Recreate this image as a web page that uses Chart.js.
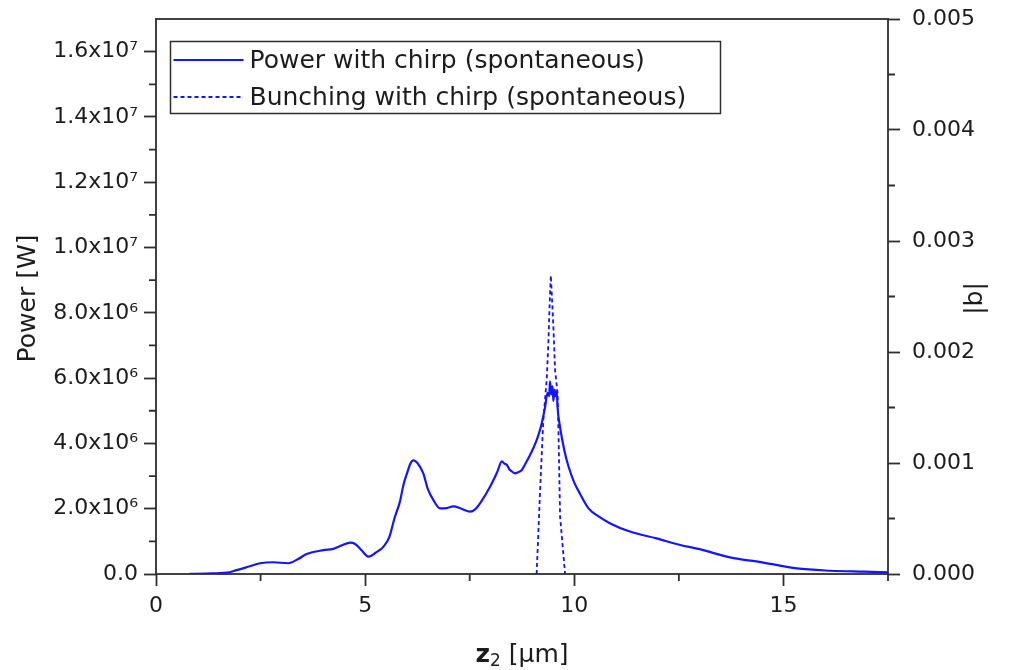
<!DOCTYPE html>
<html>
<head>
<meta charset="utf-8">
<title>Power and bunching with chirp</title>
<script src="https://cdn.jsdelivr.net/npm/chart.js@4.4.1/dist/chart.umd.min.js"></script>
<style>
  html, body { margin: 0; padding: 0; background: #fff; }
  #wrap { width: 1016px; height: 670px; }
</style>
</head>
<body>
<div id="wrap"><canvas id="powerChart" width="1016" height="670"></canvas></div>
<script>
// data
const zPower = [0.8, 1.2, 1.69, 1.93, 2.2, 2.49, 2.8, 3.16, 3.4, 3.6, 4.0, 4.24, 4.45, 4.64,
  4.76, 4.92, 5.08, 5.25, 5.44, 5.58, 5.7, 5.83, 5.92, 6.0, 6.08, 6.15, 6.25, 6.39, 6.5,
  6.63, 6.79, 6.95, 7.11, 7.3, 7.51, 7.63, 7.75, 7.99, 8.15, 8.27, 8.33, 8.39, 8.45, 8.5,
  8.58, 8.66, 8.74, 8.84, 8.94, 9.02, 9.1, 9.2, 9.3, 9.36, 9.4, 9.42, 9.45, 9.48, 9.5,
  9.53, 9.55, 9.58, 9.6, 9.66, 9.76, 9.86, 10.0, 10.14, 10.34, 10.6, 10.86, 11.33, 11.97, 12.53, 13.0,
  13.72, 14.52, 15.32, 16.12, 16.92, 17.5];
// power in units of 1e6 W
const powerMW = [0.005, 0.015, 0.04, 0.12, 0.22, 0.33, 0.36, 0.33, 0.46, 0.61, 0.73, 0.77, 0.88, 0.96,
  0.92, 0.72, 0.53, 0.65, 0.84, 1.14, 1.7, 2.21, 2.75, 3.08, 3.38, 3.48, 3.4, 3.08, 2.6,
  2.27, 2.01, 2.02, 2.07, 2.0, 1.91, 1.98, 2.17, 2.68, 3.1, 3.45, 3.38, 3.34, 3.2, 3.15,
  3.08, 3.12, 3.18, 3.4, 3.64, 3.85, 4.1, 4.5, 5.1, 5.55, 5.45, 5.9, 5.5, 5.75, 5.3,
  5.65, 5.45, 5.6, 5.1, 4.5, 3.8, 3.3, 2.8, 2.45, 2.01, 1.75, 1.55, 1.3, 1.09, 0.89, 0.76,
  0.51, 0.35, 0.17, 0.1, 0.07, 0.05];

const zBunch = [9.10, 9.18, 9.26, 9.34, 9.38, 9.42, 9.44, 9.50, 9.54, 9.60, 9.62, 9.66, 9.78];
const bunching = [0, 0.00073, 0.00139, 0.00175, 0.00208, 0.00253, 0.00269, 0.00223, 0.00184, 0.00163, 0.00132, 0.00052, 0];

const seriesLabels = ["Power with chirp (spontaneous)", "Bunching with chirp (spontaneous)"];

const zTicks = [0, 5, 10, 15];
const zTickLabels = ["0", "5", "10", "15"];
const zMinor = [2.5, 7.5, 12.5, 17.5];

const powerTicks = [0, 2e6, 4e6, 6e6, 8e6, 1e7, 1.2e7, 1.4e7, 1.6e7];
const powerTickLabels = ["0.0", "2.0x10\u2076", "4.0x10\u2076", "6.0x10\u2076", "8.0x10\u2076",
  "1.0x10\u2077", "1.2x10\u2077", "1.4x10\u2077", "1.6x10\u2077"];
const powerMinor = [1e6, 3e6, 5e6, 7e6, 9e6, 1.1e7, 1.3e7, 1.5e7];

const bTicks = [0, 0.001, 0.002, 0.003, 0.004, 0.005];
const bTickLabels = ["0.000", "0.001", "0.002", "0.003", "0.004", "0.005"];
const bMinor = [0.0005, 0.0015, 0.0025, 0.0035, 0.0045];

(() => {
  "use strict";

  const FONT = "'DejaVu Sans', 'Liberation Sans', Arial, sans-serif";
  const INK = "#1c1c1c";
  const AXIS = "#2e2e2e";
  const BLUE = "#1414ff";

  // chart area edges in the reference: left 156, right 888, top 19, bottom 574
  const W = 1016, H = 670;
  const AREA = { left: 156, right: 888, top: 19, bottom: 574 };

  const setTicks = (values) => (scale) => {
    scale.ticks = values.map((v) => ({ value: v }));
  };

  // pin the box sizes so the plot area lands where the reference has it
  const fitV = (width) => (s) => {
    s.width = width;
    s.paddingTop = 0;
    s.paddingBottom = 0;
  };
  const fitH = (height) => (s) => {
    s.height = height;
    s.paddingLeft = 0;
    s.paddingRight = 0;
  };

  const tickGrid = {
    display: true,
    drawOnChartArea: false,
    drawTicks: true,
    tickLength: 12,
    tickWidth: 1.8,
    tickColor: AXIS
  };

  const frame = {
    id: "frame",
    afterDraw(chart) {
      const { ctx, chartArea: a, scales } = chart;
      ctx.save();

      // box
      ctx.strokeStyle = AXIS;
      ctx.lineWidth = 1.8;
      ctx.strokeRect(a.left, a.top, a.right - a.left, a.bottom - a.top);

      // minor ticks
      ctx.beginPath();
      zMinor.forEach((v) => {
        const x = scales.x.getPixelForValue(v);
        ctx.moveTo(x, a.bottom); ctx.lineTo(x, a.bottom + 7);
      });
      powerMinor.forEach((v) => {
        const y = scales.y.getPixelForValue(v);
        ctx.moveTo(a.left, y); ctx.lineTo(a.left - 7, y);
      });
      bMinor.forEach((v) => {
        const y = scales.y1.getPixelForValue(v);
        ctx.moveTo(a.right, y); ctx.lineTo(a.right + 7, y);
      });
      ctx.stroke();

      // axis titles
      ctx.fillStyle = INK;
      ctx.textBaseline = "middle";
      ctx.textAlign = "center";
      ctx.font = `25px ${FONT}`;

      ctx.save();
      ctx.translate(28, (a.top + a.bottom) / 2 + 2);
      ctx.rotate(-Math.PI / 2);
      ctx.fillText("Power [W]", 0, 0);
      ctx.restore();

      ctx.save();
      ctx.translate(975, (a.top + a.bottom) / 2 + 2);
      ctx.rotate(-Math.PI / 2);
      ctx.fillText("|b|", 0, 0);
      ctx.restore();

      // x title: bold z, subscript 2, then unit
      const zFont = `bold 25px ${FONT}`;
      const subFont = `17px ${FONT}`;
      const unitFont = `25px ${FONT}`;
      ctx.textAlign = "left";
      ctx.font = zFont; const wz = ctx.measureText("z").width;
      ctx.font = subFont; const ws = ctx.measureText("2").width;
      ctx.font = unitFont; const wu = ctx.measureText(" [\u00b5m]").width;
      let x = (a.left + a.right) / 2 - (wz + ws + wu) / 2;
      const yT = 655;
      ctx.font = zFont; ctx.fillText("z", x, yT); x += wz;
      ctx.font = subFont; ctx.fillText("2", x, yT + 7); x += ws;
      ctx.font = unitFont; ctx.fillText(" [\u00b5m]", x, yT);

      // legend
      const lg = { x: 170.5, y: 41.5, w: 550, h: 72 };
      ctx.strokeStyle = AXIS;
      ctx.lineWidth = 1.5;
      ctx.strokeRect(lg.x, lg.y, lg.w, lg.h);
      const rows = [60, 97];
      chart.data.datasets.forEach((ds, i) => {
        ctx.beginPath();
        ctx.strokeStyle = ds.borderColor;
        ctx.lineWidth = ds.borderWidth;
        ctx.setLineDash(ds.borderDash || []);
        ctx.moveTo(lg.x + 3, rows[i]);
        ctx.lineTo(lg.x + 73, rows[i]);
        ctx.stroke();
        ctx.setLineDash([]);
        ctx.fillStyle = INK;
        ctx.font = `25px ${FONT}`;
        ctx.fillText(ds.label, lg.x + 79, rows[i] + 1);
      });

      ctx.restore();
    }
  };

  const ctx = document.getElementById("powerChart").getContext("2d");

  new Chart(ctx, {
    type: "line",
    data: {
      datasets: [
        {
          label: seriesLabels[0],
          data: zPower.map((z, i) => ({ x: z, y: powerMW[i] * 1e6 })),
          yAxisID: "y",
          borderColor: BLUE,
          borderWidth: 2.2,
          pointRadius: 0,
          cubicInterpolationMode: "monotone",
          fill: false
        },
        {
          label: seriesLabels[1],
          data: zBunch.map((z, i) => ({ x: z, y: bunching[i] })),
          yAxisID: "y1",
          borderColor: BLUE,
          borderWidth: 1.8,
          borderDash: [4, 3],
          pointRadius: 0,
          tension: 0,
          fill: false
        }
      ]
    },
    options: {
      responsive: false,
      animation: false,
      layout: { padding: { top: AREA.top, left: 0, right: 0, bottom: 0 } },
      plugins: { legend: { display: false }, tooltip: { enabled: false } },
      scales: {
        x: {
          type: "linear",
          position: "bottom",
          min: 0,
          max: 17.5,
          afterBuildTicks: setTicks(zTicks),
          afterFit: fitH(H - AREA.bottom),
          grid: tickGrid,
          border: { display: false },
          ticks: {
            padding: 7,
            color: INK,
            font: { family: FONT, size: 22 },
            maxRotation: 0,
            callback: (v, i) => zTickLabels[i]
          }
        },
        y: {
          type: "linear",
          position: "left",
          min: 0,
          max: 1.7e7,
          afterBuildTicks: setTicks(powerTicks),
          afterFit: fitV(AREA.left),
          grid: tickGrid,
          border: { display: false },
          ticks: {
            padding: 6,
            color: INK,
            font: { family: FONT, size: 22 },
            callback: (v, i) => powerTickLabels[i]
          }
        },
        y1: {
          type: "linear",
          position: "right",
          min: 0,
          max: 0.005,
          afterBuildTicks: setTicks(bTicks),
          afterFit: fitV(W - AREA.right),
          grid: tickGrid,
          border: { display: false },
          ticks: {
            padding: 12,
            color: INK,
            font: { family: FONT, size: 22 },
            callback: (v, i) => bTickLabels[i]
          }
        }
      }
    },
    plugins: [frame]
  });
})();
</script>
</body>
</html>
